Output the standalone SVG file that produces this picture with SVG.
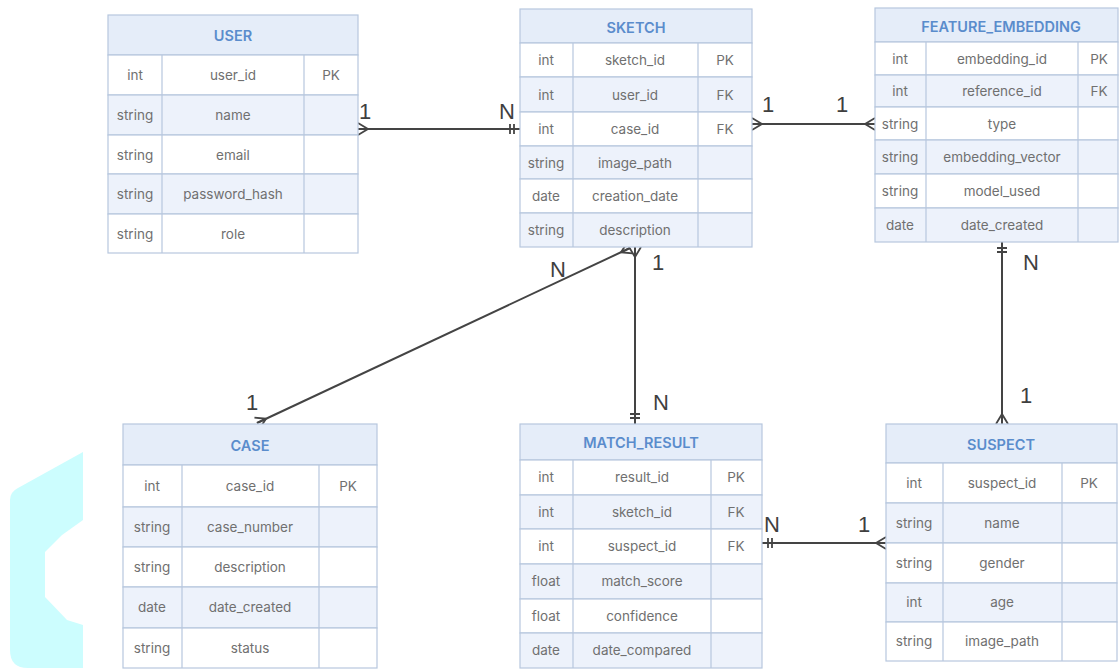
<svg xmlns="http://www.w3.org/2000/svg" width="1120" height="672" viewBox="0 0 1120 672">
<style>
.hd{fill:#e5edf9;stroke:#b7c7de;stroke-width:1.2}
.w{fill:#ffffff;stroke:#b7c7de;stroke-width:1.2}
.s{fill:#edf2fb;stroke:#b7c7de;stroke-width:1.2}
.cl{stroke:#b7c7de;stroke-width:1.2}
.t{font-family:Inter,"Liberation Sans",sans-serif;font-size:13.5px;fill:#707070;text-anchor:middle;dominant-baseline:central}
.tt{font-family:Inter,"Liberation Sans",sans-serif;font-size:14.5px;font-weight:600;fill:#5a8ccc;text-anchor:middle;dominant-baseline:central}
.lbl{font-family:"Liberation Sans",Arial,sans-serif;font-size:22px;fill:#3f3f3f;text-anchor:middle}
.con{fill:none;stroke:#444;stroke-width:2}
.mk{fill:none;stroke:#444;stroke-width:1.8}
</style>
<defs>
<marker id="crow" viewBox="0 0 10 12" refX="10" refY="6" markerWidth="10" markerHeight="12" markerUnits="userSpaceOnUse" orient="auto-start-reverse" overflow="visible">
<path class="mk" d="M0,6 L10,0 M0,6 L10,12 M0,6 L10,6"/>
</marker>
<marker id="bar2" viewBox="0 0 12 12" refX="12" refY="6" markerWidth="12" markerHeight="12" markerUnits="userSpaceOnUse" orient="auto-start-reverse" overflow="visible">
<path class="mk" d="M2,1 L2,11 M6,1 L6,11"/>
</marker>
</defs>
<rect width="1120" height="672" fill="#ffffff"/>
<path d="M10,500 Q10,492 18,488 L83,452 L83,520 L62,535 L45,552 L45,597 L67,620 L83,625 L83,668 L28,668 Q10,668 10,650 Z" fill="#ccfdfe"/>

<g id="connectors">
<path class="con" d="M358,129 L520,129" marker-start="url(#crow)" marker-end="url(#bar2)"/>
<path class="con" d="M752,124 L875,124" marker-start="url(#crow)" marker-end="url(#crow)"/>
<path class="con" d="M630,248 L257,423" marker-start="url(#crow)" marker-end="url(#crow)"/>
<path class="con" d="M635,247 L635,424" marker-start="url(#crow)" marker-end="url(#bar2)"/>
<path class="con" d="M1002,242 L1002,424" marker-start="url(#bar2)" marker-end="url(#crow)"/>
<path class="con" d="M762,543 L886,543" marker-start="url(#bar2)" marker-end="url(#crow)"/>
<text class="lbl" x="365" y="119">1</text>
<text class="lbl" x="507" y="119">N</text>
<text class="lbl" x="768" y="112">1</text>
<text class="lbl" x="842" y="112">1</text>
<text class="lbl" x="558" y="277">N</text>
<text class="lbl" x="252" y="410">1</text>
<text class="lbl" x="658" y="270">1</text>
<text class="lbl" x="661" y="410">N</text>
<text class="lbl" x="1031" y="270">N</text>
<text class="lbl" x="1026" y="403">1</text>
<text class="lbl" x="772" y="532">N</text>
<text class="lbl" x="864" y="532">1</text>
</g>

<g id="user">
<rect class="hd" x="108" y="15" width="250" height="40"/>
<rect class="w" x="108" y="55" width="250" height="40"/>
<rect class="s" x="108" y="95" width="250" height="40"/>
<rect class="w" x="108" y="135" width="250" height="39"/>
<rect class="s" x="108" y="174" width="250" height="40"/>
<rect class="w" x="108" y="214" width="250" height="39"/>
<path class="cl" d="M162,55 V253 M304,55 V253"/>
<text class="tt" x="233" y="35">USER</text>
<text class="t" x="135" y="75">int</text><text class="t" x="233" y="75">user_id</text><text class="t" x="331" y="75">PK</text>
<text class="t" x="135" y="115">string</text><text class="t" x="233" y="115">name</text>
<text class="t" x="135" y="155">string</text><text class="t" x="233" y="155">email</text>
<text class="t" x="135" y="194">string</text><text class="t" x="233" y="194">password_hash</text>
<text class="t" x="135" y="234">string</text><text class="t" x="233" y="234">role</text>
</g>

<g id="sketch">
<rect class="hd" x="520" y="9" width="232" height="34"/>
<rect class="w" x="520" y="43" width="232" height="34"/>
<rect class="s" x="520" y="77" width="232" height="35"/>
<rect class="w" x="520" y="112" width="232" height="34"/>
<rect class="s" x="520" y="146" width="232" height="33"/>
<rect class="w" x="520" y="179" width="232" height="34"/>
<rect class="s" x="520" y="213" width="232" height="34"/>
<path class="cl" d="M573,43 V247 M698,43 V247"/>
<text class="tt" x="636" y="27">SKETCH</text>
<text class="t" x="546" y="60">int</text><text class="t" x="635" y="60">sketch_id</text><text class="t" x="725" y="60">PK</text>
<text class="t" x="546" y="95">int</text><text class="t" x="635" y="95">user_id</text><text class="t" x="725" y="95">FK</text>
<text class="t" x="546" y="129">int</text><text class="t" x="635" y="129">case_id</text><text class="t" x="725" y="129">FK</text>
<text class="t" x="546" y="163">string</text><text class="t" x="635" y="163">image_path</text>
<text class="t" x="546" y="196">date</text><text class="t" x="635" y="196">creation_date</text>
<text class="t" x="546" y="230">string</text><text class="t" x="635" y="230">description</text>
</g>

<g id="feature_embedding">
<rect class="hd" x="875" y="8" width="243" height="34"/>
<rect class="w" x="875" y="42" width="243" height="33"/>
<rect class="s" x="875" y="75" width="243" height="32"/>
<rect class="w" x="875" y="107" width="243" height="33"/>
<rect class="s" x="875" y="140" width="243" height="34"/>
<rect class="w" x="875" y="174" width="243" height="34"/>
<rect class="s" x="875" y="208" width="243" height="34"/>
<path class="cl" d="M926,42 V242 M1078,42 V242"/>
<text class="tt" x="1001" y="26">FEATURE_EMBEDDING</text>
<text class="t" x="900" y="59">int</text><text class="t" x="1002" y="59">embedding_id</text><text class="t" x="1099" y="59">PK</text>
<text class="t" x="900" y="91">int</text><text class="t" x="1002" y="91">reference_id</text><text class="t" x="1099" y="91">FK</text>
<text class="t" x="900" y="124">string</text><text class="t" x="1002" y="124">type</text>
<text class="t" x="900" y="157">string</text><text class="t" x="1002" y="157">embedding_vector</text>
<text class="t" x="900" y="191">string</text><text class="t" x="1002" y="191">model_used</text>
<text class="t" x="900" y="225">date</text><text class="t" x="1002" y="225">date_created</text>
</g>

<g id="case">
<rect class="hd" x="123" y="424" width="254" height="41"/>
<rect class="w" x="123" y="465" width="254" height="42"/>
<rect class="s" x="123" y="507" width="254" height="40"/>
<rect class="w" x="123" y="547" width="254" height="40"/>
<rect class="s" x="123" y="587" width="254" height="41"/>
<rect class="w" x="123" y="628" width="254" height="40"/>
<path class="cl" d="M182,465 V668 M319,465 V668"/>
<text class="tt" x="250" y="445">CASE</text>
<text class="t" x="152" y="486">int</text><text class="t" x="250" y="486">case_id</text><text class="t" x="348" y="486">PK</text>
<text class="t" x="152" y="527">string</text><text class="t" x="250" y="527">case_number</text>
<text class="t" x="152" y="567">string</text><text class="t" x="250" y="567">description</text>
<text class="t" x="152" y="607">date</text><text class="t" x="250" y="607">date_created</text>
<text class="t" x="152" y="648">string</text><text class="t" x="250" y="648">status</text>
</g>

<g id="match_result">
<rect class="hd" x="520" y="424" width="242" height="36"/>
<rect class="w" x="520" y="460" width="242" height="35"/>
<rect class="s" x="520" y="495" width="242" height="34"/>
<rect class="w" x="520" y="529" width="242" height="35"/>
<rect class="s" x="520" y="564" width="242" height="35"/>
<rect class="w" x="520" y="599" width="242" height="34"/>
<rect class="s" x="520" y="633" width="242" height="35"/>
<path class="cl" d="M573,460 V668 M711,460 V668"/>
<text class="tt" x="641" y="442">MATCH_RESULT</text>
<text class="t" x="546" y="477">int</text><text class="t" x="642" y="477">result_id</text><text class="t" x="736" y="477">PK</text>
<text class="t" x="546" y="512">int</text><text class="t" x="642" y="512">sketch_id</text><text class="t" x="736" y="512">FK</text>
<text class="t" x="546" y="546">int</text><text class="t" x="642" y="546">suspect_id</text><text class="t" x="736" y="546">FK</text>
<text class="t" x="546" y="581">float</text><text class="t" x="642" y="581">match_score</text>
<text class="t" x="546" y="616">float</text><text class="t" x="642" y="616">confidence</text>
<text class="t" x="546" y="650">date</text><text class="t" x="642" y="650">date_compared</text>
</g>

<g id="suspect">
<rect class="hd" x="886" y="424" width="231" height="39"/>
<rect class="w" x="886" y="463" width="231" height="40"/>
<rect class="s" x="886" y="503" width="231" height="40"/>
<rect class="w" x="886" y="543" width="231" height="40"/>
<rect class="s" x="886" y="583" width="231" height="39"/>
<rect class="w" x="886" y="622" width="231" height="39"/>
<path class="cl" d="M943,463 V661 M1062,463 V661"/>
<text class="tt" x="1001" y="444">SUSPECT</text>
<text class="t" x="914" y="483">int</text><text class="t" x="1002" y="483">suspect_id</text><text class="t" x="1089" y="483">PK</text>
<text class="t" x="914" y="523">string</text><text class="t" x="1002" y="523">name</text>
<text class="t" x="914" y="563">string</text><text class="t" x="1002" y="563">gender</text>
<text class="t" x="914" y="602">int</text><text class="t" x="1002" y="602">age</text>
<text class="t" x="914" y="641">string</text><text class="t" x="1002" y="641">image_path</text>
</g>
</svg>
